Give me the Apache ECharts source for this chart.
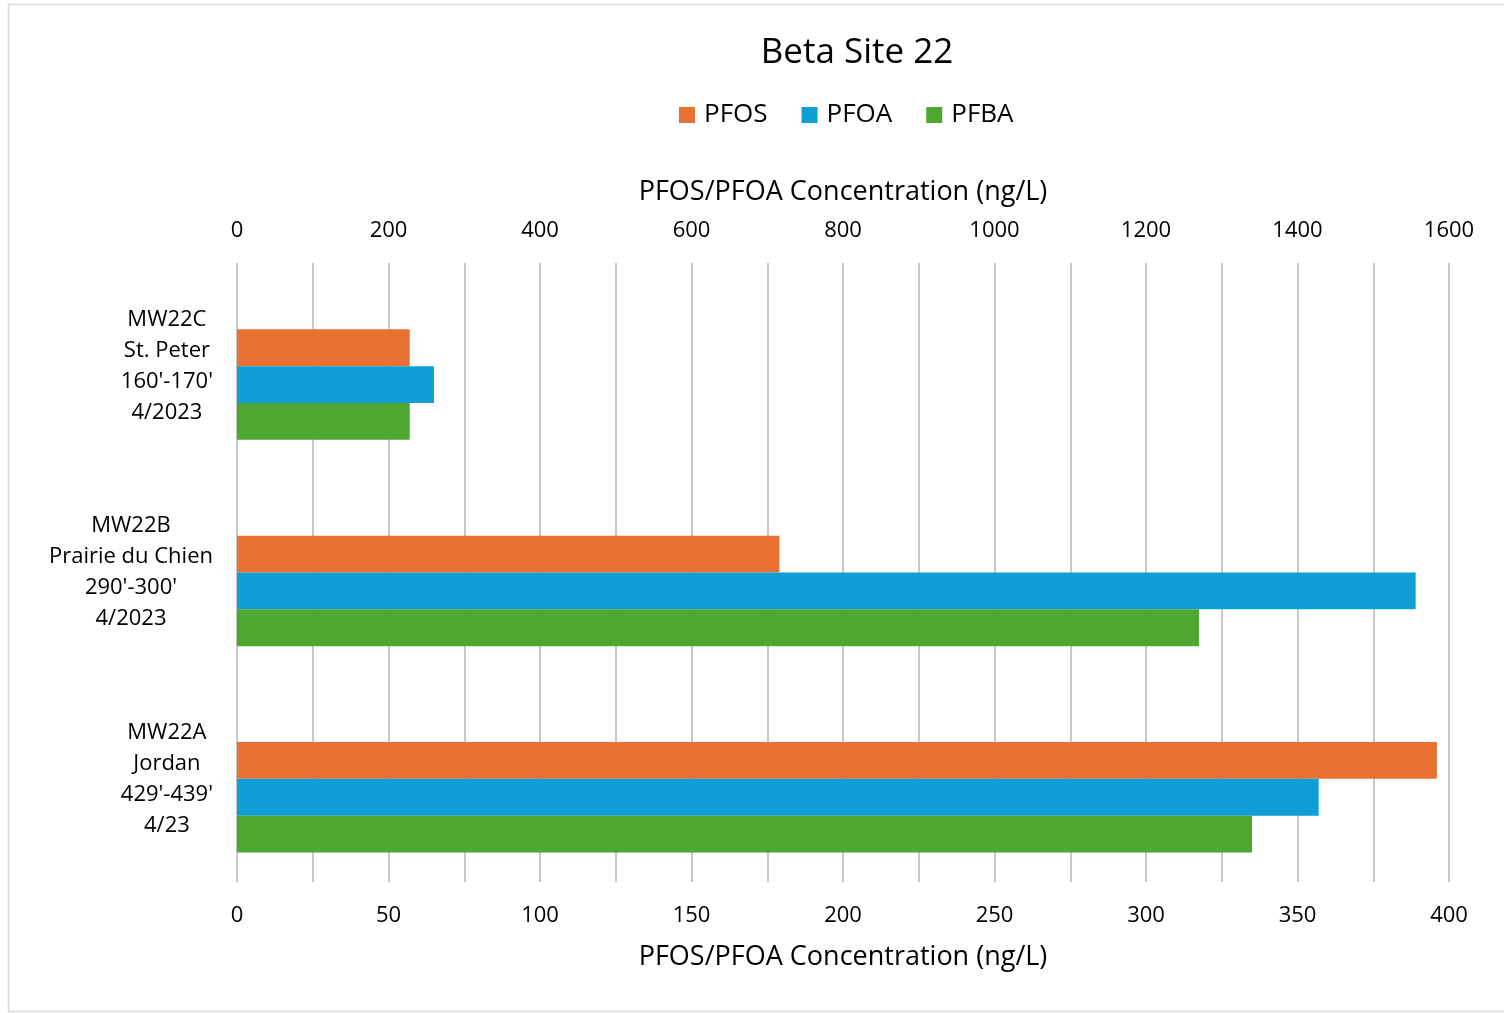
<!DOCTYPE html>
<html>
<head>
<meta charset="utf-8">
<script src="https://cdn.jsdelivr.net/npm/echarts@6/dist/echarts.min.js"></script>
<style>
  html, body { margin: 0; padding: 0; background: #fff; }
  #chart { width: 1504px; height: 1013px; }
</style>
</head>
<body>
<div id="chart"></div>
<script>
// wells, top to bottom
const wells = [
  ['MW22C', 'St. Peter', "160'-170'", '4/2023'],
  ['MW22B', 'Prairie du Chien', "290'-300'", '4/2023'],
  ['MW22A', 'Jordan', "429'-439'", '4/23']
]
const pfos = [57, 179, 396]     // bottom axis
const pfoa = [65, 389, 357]     // bottom axis
const pfba = [228, 1270, 1340]  // top axis
const bottomTicks = [0, 400, 50]
const topTicks = [0, 1600, 200]

const font = '"Open Sans", "Noto Sans", sans-serif'
const chart = echarts.init(document.getElementById('chart'))

chart.setOption({
  backgroundColor: '#fff',
  textStyle: { fontFamily: font },
  title: {
    text: 'Beta Site 22',
    left: 852, top: 31, textAlign: 'center',
    textStyle: { fontSize: 35, fontWeight: 'normal', color: '#000', fontFamily: font }
  },
  legend: {
    data: ['PFOS', 'PFOA', 'PFBA'],
    left: 674, top: 97,
    itemWidth: 16, itemHeight: 16, itemGap: 34,
    icon: 'rect',
    textStyle: { fontSize: 26, color: '#000', fontFamily: font, padding: [0, 0, 0, 4] }
  },
  graphic: [{
    type: 'rect', silent: true,
    shape: { x: 8.5, y: 4.5, width: 1500, height: 1007 },
    style: { fill: 'none', stroke: '#d9d9d9', lineWidth: 1.5 }
  }],
  grid: { left: 237, right: 55, top: 263, bottom: 131 },
  xAxis: [
    {
      type: 'value', position: 'bottom',
      min: bottomTicks[0], max: bottomTicks[1], interval: bottomTicks[2],
      name: 'PFOS/PFOA Concentration (ng/L)', nameLocation: 'middle', nameGap: 62,
      nameTextStyle: { fontSize: 27, color: '#000', fontFamily: font },
      axisLine: { show: false }, axisTick: { show: false },
      axisLabel: { fontSize: 22, color: '#000', margin: 23, fontFamily: font },
      splitLine: { show: true, lineStyle: { color: '#c8c8c8', width: 2 } },
      minorTick: { show: false, splitNumber: 2 },
      minorSplitLine: { show: true, lineStyle: { color: '#c8c8c8', width: 2 } }
    },
    {
      type: 'value', position: 'top',
      min: topTicks[0], max: topTicks[1], interval: topTicks[2],
      name: 'PFOS/PFOA Concentration (ng/L)', nameLocation: 'middle', nameGap: 57,
      nameTextStyle: { fontSize: 27, color: '#000', fontFamily: font },
      axisLine: { show: false }, axisTick: { show: false },
      axisLabel: { fontSize: 22, color: '#000', margin: 21, fontFamily: font, formatter: v => String(v) },
      splitLine: { show: false }
    }
  ],
  yAxis: {
    type: 'category', inverse: true,
    data: wells.map(w => w.join('\n')),
    axisLine: { show: false }, axisTick: { show: false },
    axisLabel: {
      margin: 24, align: 'right',
      formatter: v => v.split('\n').map(s => '{c|' + s + '}').join('\n'),
      rich: { c: { align: 'center', fontSize: 22, lineHeight: 31, color: '#000', fontFamily: font } }
    }
  },
  series: [
    // empty slot above the three bars, like the source
    { name: 'gap', type: 'bar', xAxisIndex: 0, data: [null, null, null], barGap: '0%', barCategoryGap: '28.6%' },
    { name: 'PFOS', type: 'bar', xAxisIndex: 0, data: pfos, itemStyle: { color: '#E97132' }, barGap: '0%', barCategoryGap: '28.6%' },
    { name: 'PFOA', type: 'bar', xAxisIndex: 0, data: pfoa, itemStyle: { color: '#0F9ED5' }, barGap: '0%', barCategoryGap: '28.6%' },
    { name: 'PFBA', type: 'bar', xAxisIndex: 1, data: pfba, itemStyle: { color: '#4EA72E' }, barGap: '0%', barCategoryGap: '28.6%' }
  ]
})
</script>
</body>
</html>
